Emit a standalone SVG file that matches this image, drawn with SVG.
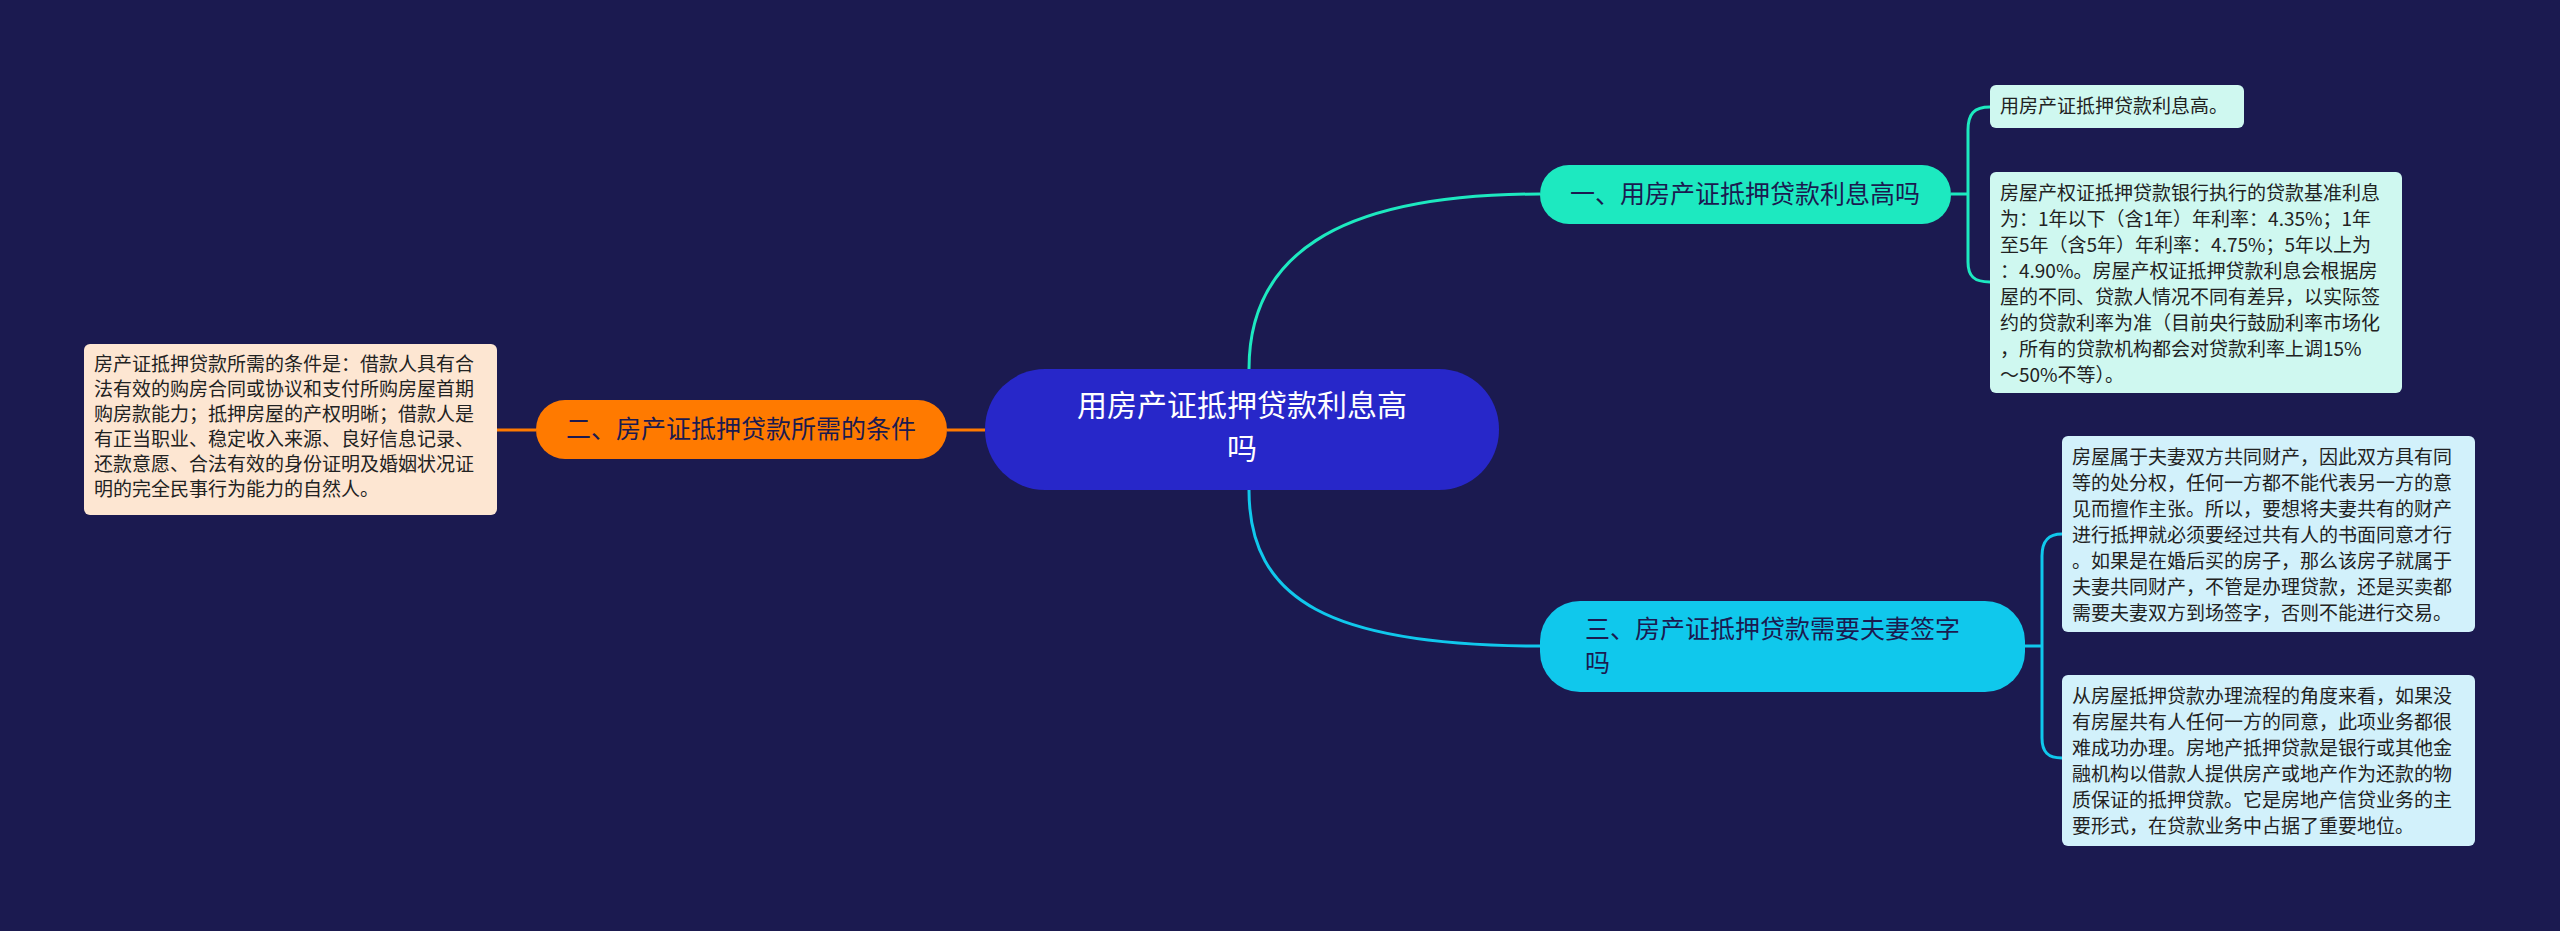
<svg xmlns="http://www.w3.org/2000/svg" width="2560" height="931" viewBox="0 0 2560 931">
<style>
text{font-family:"Noto Sans CJK SC","Noto Sans",sans-serif}
.leaf{font-size:19px;fill:#222}
.br{font-size:25px}
</style>
<rect width="2560" height="931" fill="#1b1a50"/>
<g id="connectors" fill="none" stroke-width="3">
<path d="M1249,369 C1249,260 1330,194 1540,194" stroke="#1de9c0"/>
<path d="M1249,490 C1249,600 1330,646 1540,646" stroke="#10c8ec"/>
<path d="M985,430 L947,430" stroke="#ff7a00"/>
<path d="M536,430 L497,430" stroke="#ff7a00"/>
<path d="M1951,194 L1968,194 M1990,107 C1974,107 1968,114 1968,130 L1968,262 C1968,276 1974,282 1990,282" stroke="#1de9c0"/>
<path d="M2025,646 L2042,646 M2062,534 C2048,534 2042,541 2042,556 L2042,738 C2042,752 2048,758 2062,758" stroke="#10c8ec"/>
</g>
<g id="root"><rect x="985" y="369" width="514" height="121" rx="60" fill="#2727c9"/>
<text x="1242" y="416" font-size="30" fill="#fff" text-anchor="middle">用房产证抵押贷款利息高</text>
<text x="1242" y="459" font-size="30" fill="#fff" text-anchor="middle">吗</text></g>
<g id="b1"><rect x="1540" y="165" width="411" height="59" rx="29" fill="#1de9c0"/>
<text x="1745" y="203" class="br" fill="#1b1a50" text-anchor="middle">一、用房产证抵押贷款利息高吗</text></g>
<g id="b2"><rect x="536" y="400" width="411" height="59" rx="29" fill="#ff7a00"/>
<text x="741" y="438" class="br" fill="#1b1a50" text-anchor="middle">二、房产证抵押贷款所需的条件</text></g>
<g id="b3"><rect x="1540" y="601" width="485" height="91" rx="40" fill="#10c8ec"/>
<text x="1585" y="638" class="br" fill="#1b1a50">三、房产证抵押贷款需要夫妻签字</text>
<text x="1585" y="672" class="br" fill="#1b1a50">吗</text></g>
<g id="l1"><rect x="1990" y="85" width="254" height="43" rx="6" fill="#cff8f0"/>
<text x="2000" y="113" class="leaf">用房产证抵押贷款利息高。</text></g>
<g id="l2"><rect x="1990" y="172" width="412" height="221" rx="6" fill="#cff8f0"/>
<text class="leaf"><tspan x="2000" y="200">房屋产权证抵押贷款银行执行的贷款基准利息</tspan><tspan x="2000" y="226">为：1年以下（含1年）年利率：4.35%；1年</tspan><tspan x="2000" y="252">至5年（含5年）年利率：4.75%；5年以上为</tspan><tspan x="2000" y="278">：4.90%。房屋产权证抵押贷款利息会根据房</tspan><tspan x="2000" y="304">屋的不同、贷款人情况不同有差异，以实际签</tspan><tspan x="2000" y="330">约的贷款利率为准（目前央行鼓励利率市场化</tspan><tspan x="2000" y="356">，所有的贷款机构都会对贷款利率上调15%</tspan><tspan x="2000" y="382">～50%不等）。</tspan></text></g>
<g id="l3"><rect x="2062" y="436" width="413" height="196" rx="6" fill="#d2f1fb"/>
<text class="leaf"><tspan x="2072" y="464">房屋属于夫妻双方共同财产，因此双方具有同</tspan><tspan x="2072" y="490">等的处分权，任何一方都不能代表另一方的意</tspan><tspan x="2072" y="516">见而擅作主张。所以，要想将夫妻共有的财产</tspan><tspan x="2072" y="542">进行抵押就必须要经过共有人的书面同意才行</tspan><tspan x="2072" y="568">。如果是在婚后买的房子，那么该房子就属于</tspan><tspan x="2072" y="594">夫妻共同财产，不管是办理贷款，还是买卖都</tspan><tspan x="2072" y="620">需要夫妻双方到场签字，否则不能进行交易。</tspan></text></g>
<g id="l4"><rect x="2062" y="675" width="413" height="171" rx="6" fill="#d2f1fb"/>
<text class="leaf"><tspan x="2072" y="703">从房屋抵押贷款办理流程的角度来看，如果没</tspan><tspan x="2072" y="729">有房屋共有人任何一方的同意，此项业务都很</tspan><tspan x="2072" y="755">难成功办理。房地产抵押贷款是银行或其他金</tspan><tspan x="2072" y="781">融机构以借款人提供房产或地产作为还款的物</tspan><tspan x="2072" y="807">质保证的抵押贷款。它是房地产信贷业务的主</tspan><tspan x="2072" y="833">要形式，在贷款业务中占据了重要地位。</tspan></text></g>
<g id="l5"><rect x="84" y="344" width="413" height="171" rx="6" fill="#fde6d2"/>
<text class="leaf"><tspan x="94" y="371">房产证抵押贷款所需的条件是：借款人具有合</tspan><tspan x="94" y="396">法有效的购房合同或协议和支付所购房屋首期</tspan><tspan x="94" y="421">购房款能力；抵押房屋的产权明晰；借款人是</tspan><tspan x="94" y="446">有正当职业、稳定收入来源、良好信息记录、</tspan><tspan x="94" y="471">还款意愿、合法有效的身份证明及婚姻状况证</tspan><tspan x="94" y="496">明的完全民事行为能力的自然人。</tspan></text></g>
</svg>
